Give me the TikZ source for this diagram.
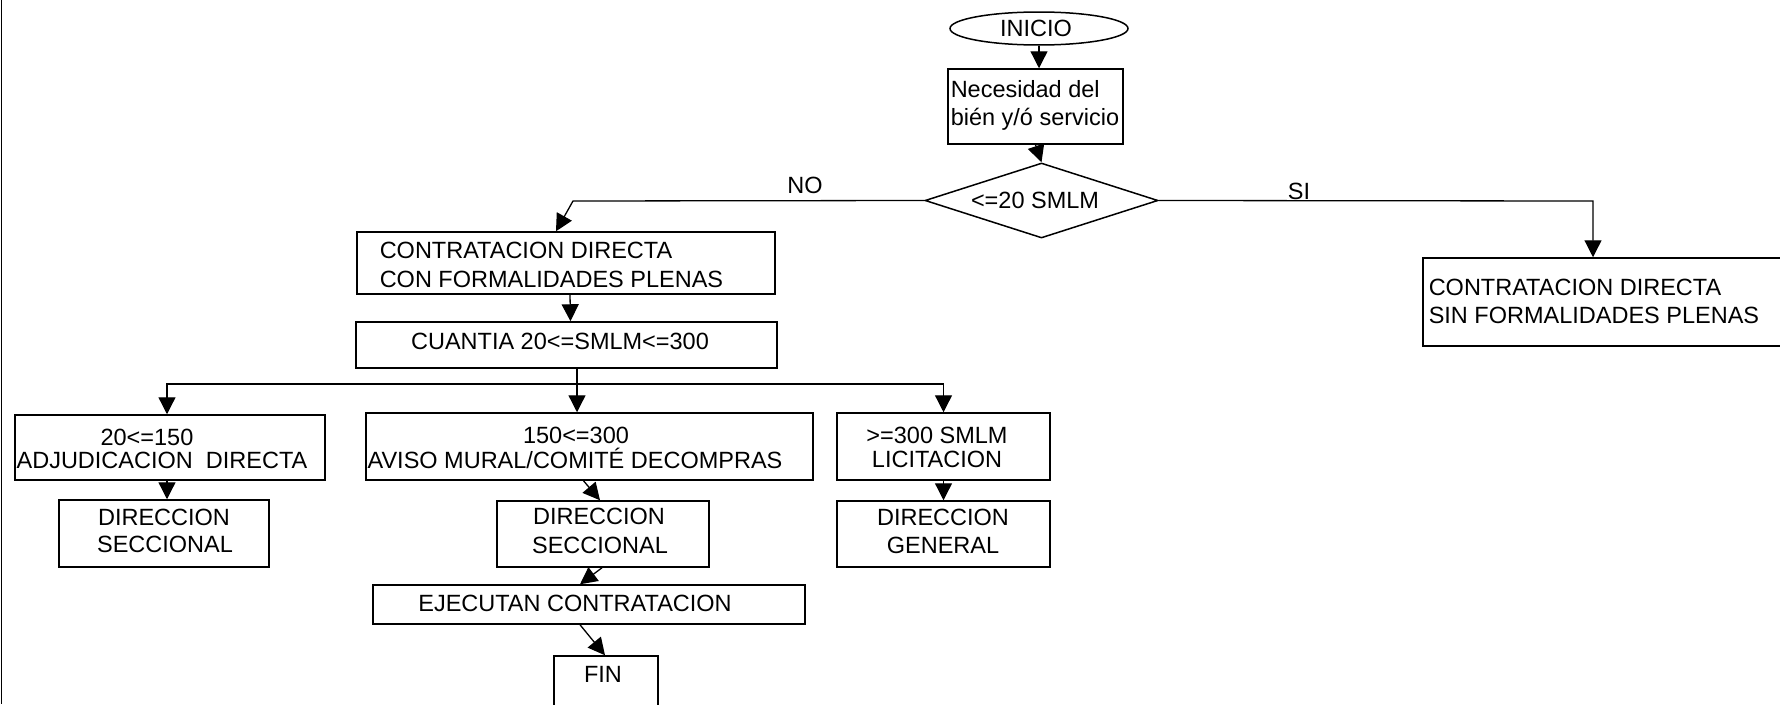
\documentclass[tikz,border=0pt]{standalone}
\usepackage{fontspec}
\setmainfont{Liberation Sans}
\usetikzlibrary{shapes.geometric,arrows.meta}
\begin{document}
\begin{tikzpicture}[x=1pt,y=-1pt,
  line width=1.5pt,
  box/.style={draw, rectangle, inner sep=0pt, line width=1.5pt},
  txt/.style={inner sep=0pt, font=\fontsize{23.5}{28}\selectfont},
  arr/.style={-{Triangle[length=17pt,width=17pt]}, line width=1.3pt},
]
\useasboundingbox (0,0) rectangle (1780,704);
\fill[white] (0,0) rectangle (1780,704);
\clip (0,0) rectangle (1780,704);
% page frame edge
\draw (1.5,0) -- (1.5,704);

% start and first step
\node[draw, ellipse, minimum width=178pt, minimum height=33pt, inner sep=0pt] (ini) at (1039,28.5) {};
\node[txt, anchor=base] (tini) at (1036,36) {INICIO};
\node[box, minimum width=175pt, minimum height=75pt] (nec) at (1035.5,106.5) {};
\node[txt, anchor=base west] (tnec1) at (950,97) {Necesidad del};
\node[txt, anchor=base west] (tnec2) at (950,125) {bién y/ó servicio};

% decision
\node[draw, diamond, minimum width=233pt, minimum height=75pt, inner sep=0pt] (dia) at (1041.5,200.5) {};
\node[txt, anchor=base] (tdia) at (1035,208) {<=20 SMLM};
\node[txt, anchor=base] (tno) at (805,193) {NO};
\node[txt, anchor=base] (tsi) at (1299,199) {SI};

% NO branch
\node[box, minimum width=418pt, minimum height=62pt] (con) at (566,263) {};
\node[txt, anchor=base west] (tcon1) at (379,258) {CONTRATACION DIRECTA};
\node[txt, anchor=base west] (tcon2) at (379,287) {CON FORMALIDADES PLENAS};
\node[box, minimum width=421pt, minimum height=46pt] (cua) at (566.5,345) {};
\node[txt, anchor=base] (tcua) at (560,349) {CUANTIA 20<=SMLM<=300};

% three amount ranges
\node[box, minimum width=310pt, minimum height=65pt] (adj) at (170,447.5) {};
\node[txt, anchor=base] (tadj1) at (147,445) {20<=150};
\node[txt, anchor=base] (tadj2) at (162,468) {ADJUDICACION\ \ DIRECTA};
\node[box, minimum width=210pt, minimum height=67pt] (dsa) at (164,533.5) {};
\node[txt, anchor=base] (tdsa1) at (164,525) {DIRECCION};
\node[txt, anchor=base] (tdsa2) at (165,552) {SECCIONAL};

\node[box, minimum width=447pt, minimum height=67pt] (avi) at (589.5,446.5) {};
\node[txt, anchor=base] (tavi1) at (576,443) {150<=300};
\node[txt, anchor=base] (tavi2) at (575,468) {AVISO MURAL/COMITÉ DECOMPRAS};
\node[box, minimum width=212pt, minimum height=66pt] (dsb) at (603,534) {};
\node[txt, anchor=base] (tdsb1) at (599,524) {DIRECCION};
\node[txt, anchor=base] (tdsb2) at (600,553) {SECCIONAL};
\node[box, minimum width=432pt, minimum height=39pt] (eje) at (589,604.5) {};
\node[txt, anchor=base] (teje) at (575,611) {EJECUTAN CONTRATACION};
\node[box, minimum width=104pt, minimum height=64pt] (fin) at (606,688) {};
\node[txt, anchor=base] (tfin) at (603,682) {FIN};

\node[box, minimum width=213pt, minimum height=67pt] (lic) at (943.5,446.5) {};
\node[txt, anchor=base] (tlic1) at (937,443) {>=300 SMLM};
\node[txt, anchor=base] (tlic2) at (937,467) {LICITACION};
\node[box, minimum width=213pt, minimum height=66pt] (dgn) at (943.5,534) {};
\node[txt, anchor=base] (tdgn1) at (943,525) {DIRECCION};
\node[txt, anchor=base] (tdgn2) at (943,553) {GENERAL};

% SI branch
\node[box, minimum width=377pt, minimum height=88pt] (sin) at (1611.5,302) {};
\node[txt, anchor=base west] (tsin1) at (1428,295) {CONTRATACION DIRECTA};
\node[txt, anchor=base west] (tsin2) at (1428,323) {SIN FORMALIDADES PLENAS};

% connectors
\draw[arr] (ini.south) -- (ini.south |- nec.north);
\draw[arr] (nec.south) -- (dia.north);
\coordinate (nob) at (573,201);
\draw[arr] (dia.west) -- (nob) -- ([xshift=-10pt]con.north);
\coordinate (sib) at (1593,201);
\draw[arr] (dia.east) -- (sib) -- (sib |- sin.north);
\draw[arr] ([xshift=4pt]con.south) -- ([xshift=4pt]cua.north);
\coordinate (br) at (577,384);
\draw (br |- cua.south) -- (br);
\draw[arr] (br) -| ([xshift=-3pt]adj.north);
\draw[arr] (br) -- (br |- avi.north);
\draw[arr] (br) -| (lic.north);
\draw[arr] ([xshift=-3pt]adj.south) -- ([xshift=3pt]dsa.north);
\draw[arr] ([xshift=-6pt]avi.south) -- ([xshift=-3pt]dsb.north);
\draw[arr] ([xshift=-1pt]dsb.south) -- ([xshift=-9pt]eje.north);
\draw[arr] ([xshift=-9pt]eje.south) -- ([xshift=-1pt]fin.north);
\draw[arr] (lic.south) -- (dgn.north);
\end{tikzpicture}
\end{document}
